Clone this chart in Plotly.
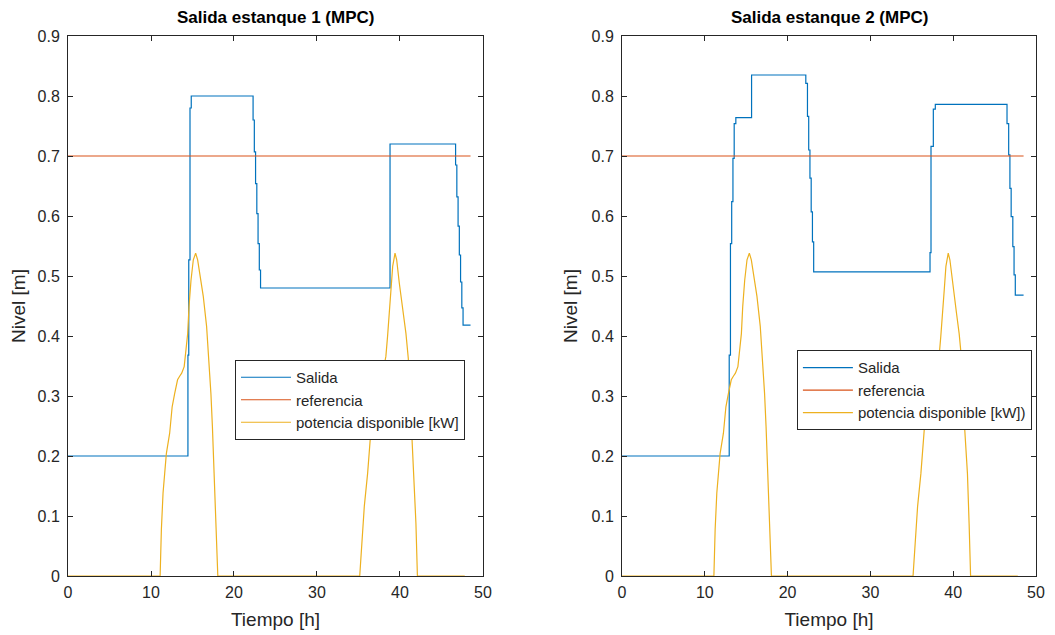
import plotly.graph_objects as go
from plotly.subplots import make_subplots

# ---------------- data ----------------
# Tank 1 output (stair-step, values hold until next time)
sal1_t = [0, 14.45, 14.55, 14.7, 14.85, 22.3, 22.45, 22.6, 22.75, 22.9, 23.05, 23.2,
          38.8, 46.7, 46.85, 47.0, 47.15, 47.3, 47.45, 47.6, 48.5]
sal1_v = [0.2, 0.368, 0.527, 0.78, 0.8, 0.76, 0.707, 0.654, 0.604, 0.554, 0.51, 0.48,
          0.72, 0.685, 0.632, 0.583, 0.535, 0.49, 0.447, 0.418, 0.418]

# Tank 2 output
sal2_t = [0, 12.95, 13.1, 13.25, 13.4, 13.55, 13.75, 15.65, 22.2, 22.4, 22.55, 22.7,
          22.85, 23.0, 23.15, 37.2, 37.32, 37.6, 37.84, 46.5, 46.7, 46.85, 47.0,
          47.2, 47.35, 47.5, 48.5]
sal2_v = [0.2, 0.368, 0.554, 0.624, 0.696, 0.754, 0.764, 0.835, 0.821, 0.766, 0.71,
          0.663, 0.607, 0.557, 0.507, 0.539, 0.716, 0.778, 0.786, 0.754, 0.702, 0.646,
          0.599, 0.549, 0.502, 0.468, 0.468]

# Reference level
ref_t = [0, 48.5]
ref_v = [0.7, 0.7]

# Available power [kW]
pot_t = [0, 11.1, 11.25, 11.45, 11.65, 11.85, 12.25, 12.55, 12.85, 13.2, 13.45, 13.7,
         14.0, 14.18, 14.42, 14.58, 14.82, 15.1, 15.38, 15.62, 15.9, 16.3, 16.7, 17.0,
         17.22, 17.4, 17.62, 17.85, 18.05,
         35.15, 35.3, 35.7, 36.1, 36.5, 37.4, 38.3, 38.5, 38.7, 38.92, 39.12, 39.4,
         39.6, 39.92, 40.4, 40.72, 41.0, 41.4, 41.72, 41.92, 42.1, 47.8]
pot_v = [0, 0, 0.077, 0.138, 0.171, 0.204, 0.238, 0.282, 0.304, 0.327, 0.333, 0.338,
         0.349, 0.371, 0.404, 0.449, 0.493, 0.527, 0.538, 0.527, 0.499, 0.466, 0.416, 0.36,
         0.304, 0.249, 0.171, 0.088, 0,
         0, 0.032, 0.116, 0.171, 0.243, 0.30, 0.366, 0.399, 0.432, 0.477, 0.516, 0.538,
         0.527, 0.488, 0.438, 0.404, 0.363, 0.243, 0.171, 0.088, 0, 0]

titles = ["Salida estanque 1 (MPC)", "Salida estanque 2 (MPC)"]
names1 = ["Salida", "referencia", "potencia disponible [kW]"]
names2 = ["Salida", "referencia", "potencia disponible [kW])"]
x_ticks = [0, 10, 20, 30, 40, 50]
y_ticks = [0, 0.1, 0.2, 0.3, 0.4, 0.5, 0.6, 0.7, 0.8, 0.9]
y_ticklabels = ["0", "0.1", "0.2", "0.3", "0.4", "0.5", "0.6", "0.7", "0.8", "0.9"]

C_BLUE = "#0072BD"
C_RED = "#D95319"
C_YEL = "#EDB120"
AX = "#262626"
FONT = "Liberation Sans, Arial, sans-serif"

fig = make_subplots(rows=1, cols=2, horizontal_spacing=0.1446)

for col, (st, sv, names, leg) in enumerate(
        [(sal1_t, sal1_v, names1, "legend"), (sal2_t, sal2_v, names2, "legend2")], start=1):
    fig.add_trace(go.Scatter(x=st, y=sv, mode="lines", line=dict(color=C_BLUE, width=1.2, shape="hv"),
                             name=names[0], legend=leg), row=1, col=col)
    fig.add_trace(go.Scatter(x=ref_t, y=ref_v, mode="lines", line=dict(color=C_RED, width=1.2),
                             name=names[1], legend=leg), row=1, col=col)
    fig.add_trace(go.Scatter(x=pot_t, y=pot_v, mode="lines", line=dict(color=C_YEL, width=1.2),
                             name=names[2], legend=leg), row=1, col=col)

ax_common = dict(showline=True, linecolor=AX, linewidth=1, mirror="ticks", ticks="inside",
                 ticklen=5, tickcolor=AX, showgrid=False, zeroline=False, automargin=False,
                 tickfont=dict(family=FONT, size=16, color=AX))

for col, dom in [(1, [0, 0.4287]), (2, [0.5723, 1.0])]:
    fig.update_xaxes(domain=dom, range=[0, 50], tickvals=x_ticks, ticklabelstandoff=2,
                     title=dict(text="Tiempo [h]", font=dict(family=FONT, size=19, color=AX), standoff=12),
                     row=1, col=col, **ax_common)
    fig.update_yaxes(range=[0, 0.9], tickvals=y_ticks, ticktext=y_ticklabels, ticklabelstandoff=4,
                     title=dict(text="Nivel [m]", font=dict(family=FONT, size=19, color=AX), standoff=8),
                     row=1, col=col, **ax_common)

annotations = []
for t, xc in zip(titles, [0.2143, 0.7862]):
    annotations.append(dict(text="<b>" + t + "</b>", x=xc, y=1.0, xref="paper", yref="paper",
                            xanchor="center", yanchor="bottom", yshift=7, showarrow=False,
                            font=dict(family=FONT, size=17, color="black")))

leg_common = dict(bgcolor="white", bordercolor=AX, borderwidth=1,
                  font=dict(family=FONT, size=15, color=AX), xanchor="left", yanchor="top",
                  tracegroupgap=0, itemwidth=50)

fig.update_layout(
    width=1047, height=627,
    margin=dict(l=60, r=19, t=28, b=59, autoexpand=False),
    plot_bgcolor="white", paper_bgcolor="white",
    showlegend=True,
    legend=dict(x=0.1725, y=0.400, **leg_common),
    legend2=dict(x=0.753, y=0.418, **leg_common),
    annotations=annotations,
)

fig.write_html("out.html")
